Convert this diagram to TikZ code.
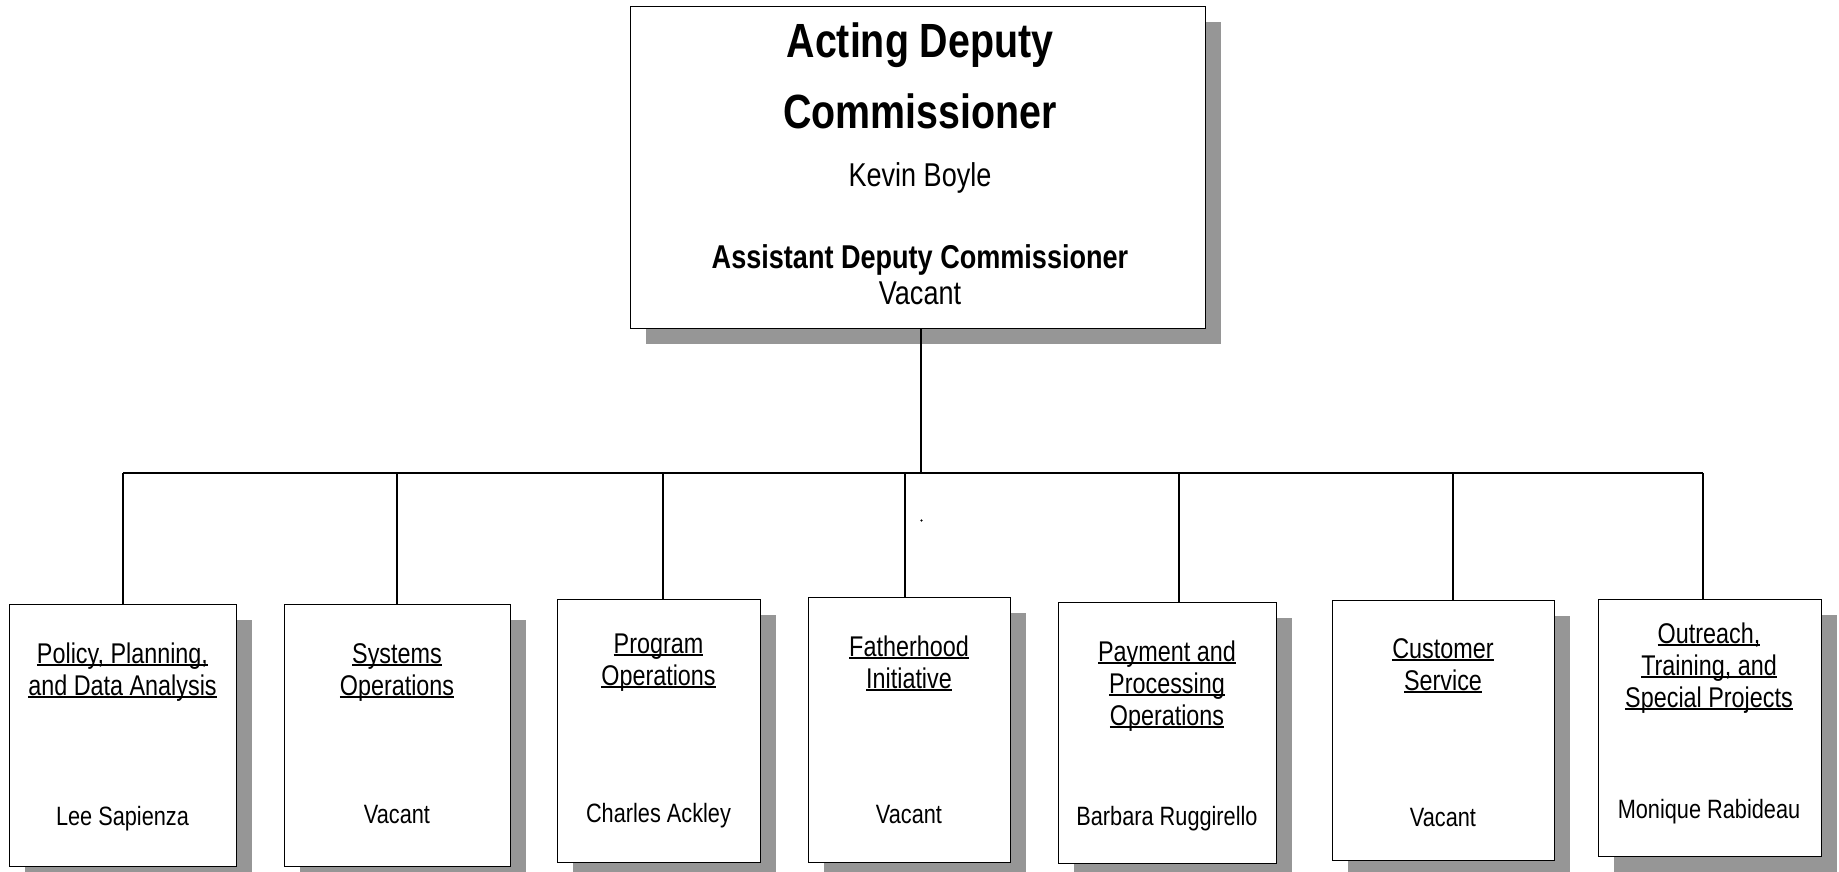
\documentclass[tikz,border=0pt]{standalone}
\usepackage{fontspec}
\setmainfont{Liberation Sans}[FakeStretch=0.82]
\usepackage{tikz}
\usetikzlibrary{shadows}
\definecolor{shadowgray}{RGB}{150,150,150}
\newcommand{\uln}[1]{\setbox0\hbox{#1}\rlap{\rule[-3pt]{\wd0}{2pt}}\box0}
\tikzset{
  box/.style={draw, fill=white, line width=1.2pt, inner sep=0pt, anchor=north west,
    drop shadow={shadow xshift=15pt, shadow yshift=-15pt, fill=shadowgray, opacity=1}},
  unit/.style={font=\fontsize{28.5}{32}\selectfont, align=center, anchor=base, inner sep=0pt},
  head/.style={font=\fontsize{26.5}{32}\selectfont, anchor=base, inner sep=0pt},
  chief/.style={font=\fontsize{33}{36}\selectfont, align=center, anchor=base, inner sep=0pt},
  link/.style={line width=1.2pt}
}

\begin{document}
\begin{tikzpicture}[x=1pt,y=-1pt]
\useasboundingbox (0,0) rectangle (1839,871);
% boxes
\node [box, minimum width=575pt, minimum height=322pt] (top) at (630,6) {};
\node [box, minimum width=227pt, minimum height=262pt] (pol) at (9,604) {};
\node [box, minimum width=226pt, minimum height=262pt] (sys) at (284,604) {};
\node [box, minimum width=203pt, minimum height=263pt] (prog) at (557,599) {};
\node [box, minimum width=202pt, minimum height=265pt] (fath) at (808,597) {};
\node [box, minimum width=218pt, minimum height=261pt] (pay) at (1058,602) {};
\node [box, minimum width=222pt, minimum height=260pt] (cust) at (1332,600) {};
\node [box, minimum width=223pt, minimum height=257pt] (out) at (1598,599) {};
% top box text
\node [chief, font=\fontsize{48}{71}\selectfont\bfseries] (ttl) at (920,128) {Acting Deputy\\Commissioner};
\node [chief] (ttlN) at (920,186) {Kevin Boyle};
\node [chief, font=\fontsize{33}{36}\selectfont\bfseries] (adc) at (920,268) {Assistant Deputy Commissioner};
\node [chief] (adcN) at (920,304) {Vacant};
% unit titles and heads
\node [unit] (polT) at (122.5,695) {\uln{Policy, Planning,}\\\uln{and Data Analysis}};
\node [head] (polN) at (122.5,825) {Lee Sapienza};
\node [unit] (sysT) at (397,695) {\uln{Systems}\\\uln{Operations}};
\node [head] (sysN) at (397,823) {Vacant};
\node [unit] (progT) at (658.5,685) {\uln{Program}\\\uln{Operations}};
\node [head] (progN) at (658.5,822) {Charles Ackley};
\node [unit] (fathT) at (909,688) {\uln{Fatherhood}\\\uln{Initiative}};
\node [head] (fathN) at (909,823) {Vacant};
\node [unit] (payT) at (1167,725) {\uln{Payment and}\\\uln{Processing}\\\uln{Operations}};
\node [head] (payN) at (1167,825) {Barbara Ruggirello};
\node [unit] (custT) at (1443,690) {\uln{Customer}\\\uln{Service}};
\node [head] (custN) at (1443,826) {Vacant};
\node [unit] (outT) at (1709,707) {\uln{Outreach,}\\\uln{Training, and}\\\uln{Special Projects}};
\node [head] (outN) at (1709,818) {Monique Rabideau};
% connectors
\coordinate (hub) at (921,473);
\coordinate (b1) at (123,473);
\coordinate (b2) at (397,473);
\coordinate (b3) at (663,473);
\coordinate (b4) at (905,473);
\coordinate (b5) at (1179,473);
\coordinate (b6) at (1453,473);
\coordinate (b7) at (1703,473);
\draw [link] (top.south -| hub) -- (hub);
\draw [link] (b1) -- (b7);
\draw [link] (b1) -- (b1 |- pol.north);
\draw [link] (b2) -- (b2 |- sys.north);
\draw [link] (b3) -- (b3 |- prog.north);
\draw [link] (b4) -- (b4 |- fath.north);
\draw [link] (b5) -- (b5 |- pay.north);
\draw [link] (b6) -- (b6 |- cust.north);
\draw [link] (b7) -- (b7 |- out.north);
\draw [fill] (921.5,520.5) circle [radius=0.8];
\end{tikzpicture}
\end{document}
